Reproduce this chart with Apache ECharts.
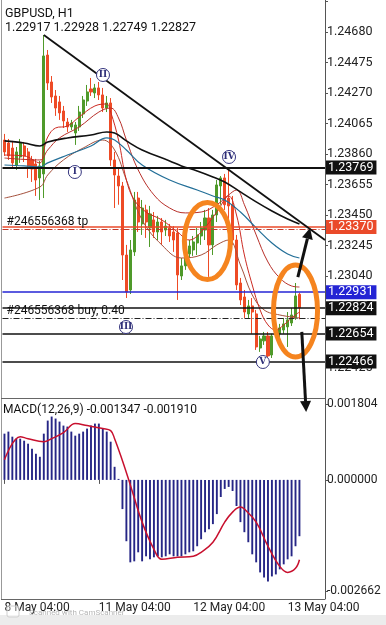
<!DOCTYPE html>
<html><head><meta charset="utf-8">
<script src="https://cdn.jsdelivr.net/npm/echarts@6.0.0/dist/echarts.min.js"></script>
<style>html,body{margin:0;padding:0;background:#fff;overflow:hidden}#c{width:386px;height:625px}</style>
</head><body><div id="c"></div>
<script>
// ---------------- data ----------------
const xTickIndex = [0, 24, 48, 72];
const xTickText = ['8 May 04:00', '11 May 04:00', '12 May 04:00', '13 May 04:00'];

const candleOpen = [
1.23954,1.23934,1.23900,1.23786,1.23840,1.23914,1.23874,1.23820,1.23793,1.23699,
1.23726,1.24525,1.24344,1.24250,1.24210,1.24149,1.24075,1.24042,1.24001,1.24042,
1.24129,1.24216,1.24297,1.24270,1.24304,1.24257,1.24169,1.24203,1.23820,1.23712,
1.23645,1.23181,1.22946,1.23202,1.23564,1.23390,1.23484,1.23363,1.23417,1.23336,
1.23403,1.23349,1.23363,1.23336,1.23329,1.23040,1.23108,1.23188,1.23215,1.23262,
1.23309,1.23349,1.23430,1.23249,1.23450,1.23645,1.23699,1.23564,1.23519,1.23282,
1.22993,1.22899,1.22785,1.22839,1.22785,1.22556,1.22604,1.22637,1.22509,1.22677,
1.22651,1.22677,1.22698,1.22724,1.22758,1.22917];
const candleClose = [
1.23874,1.23847,1.23800,1.23874,1.23934,1.23847,1.23780,1.23759,1.23685,1.23780,
1.24519,1.24337,1.24243,1.24169,1.24136,1.24082,1.24042,1.24068,1.24055,1.24142,
1.24223,1.24277,1.24277,1.24304,1.24257,1.24169,1.24203,1.23820,1.23719,1.23645,
1.23181,1.22933,1.23215,1.23551,1.23403,1.23497,1.23403,1.23457,1.23336,1.23403,
1.23336,1.23376,1.23309,1.23282,1.23047,1.23108,1.23202,1.23242,1.23269,1.23316,
1.23363,1.23430,1.23249,1.23450,1.23652,1.23699,1.23519,1.23511,1.23282,1.22980,
1.22879,1.22798,1.22839,1.22798,1.22563,1.22617,1.22637,1.22503,1.22637,1.22651,
1.22691,1.22718,1.22745,1.22778,1.22906,1.22827];
const candleLow = [
1.23847,1.23820,1.23766,1.23753,1.23800,1.23806,1.23699,1.23672,1.23578,1.23551,
1.23564,1.24290,1.24203,1.24116,1.24089,1.24035,1.24008,1.24021,1.23921,1.24015,
1.24102,1.24183,1.24250,1.24236,1.24223,1.24142,1.24142,1.23780,1.23497,1.23519,
1.23013,1.22892,1.22919,1.23175,1.23336,1.23316,1.23296,1.23235,1.23296,1.23282,
1.23249,1.23309,1.23269,1.23202,1.22879,1.23013,1.23081,1.23161,1.23175,1.23181,
1.23249,1.23282,1.23034,1.23181,1.23403,1.23519,1.23484,1.23363,1.23249,1.22946,
1.22845,1.22758,1.22758,1.22651,1.22543,1.22530,1.22577,1.22489,1.22489,1.22624,
1.22624,1.22651,1.22563,1.22704,1.22745,1.22749];
const candleHigh = [
1.23995,1.23961,1.23948,1.23907,1.23961,1.23941,1.23900,1.23847,1.23827,1.23813,
1.24660,1.24559,1.24384,1.24290,1.24250,1.24183,1.24102,1.24089,1.24075,1.24183,
1.24250,1.24324,1.24371,1.24331,1.24344,1.24304,1.24250,1.24236,1.23874,1.23766,
1.23672,1.23249,1.23282,1.23605,1.23605,1.23551,1.23519,1.23511,1.23470,1.23444,
1.23430,1.23417,1.23390,1.23376,1.23363,1.23161,1.23249,1.23282,1.23309,1.23363,
1.23403,1.23484,1.23497,1.23484,1.23685,1.23712,1.23726,1.23766,1.23578,1.23316,
1.23027,1.22946,1.22879,1.22892,1.22812,1.22637,1.22664,1.22664,1.22651,1.22704,
1.22718,1.22758,1.22798,1.22825,1.22993,1.22928];

// moving-average lines: [bar index, price]
const maBlack = [[0,1.23948],[5,1.23934],[9,1.23914],[11,1.23941],[16,1.23968],[22,1.23988],[26,1.24008],[28,1.24001],[31,1.23948],[35,1.23887],[42,1.23813],[45,1.23780],[49,1.23746],[53,1.23706],[56,1.23672],[60,1.23605],[64,1.23538],[68,1.23477],[72,1.23423],[75,1.23390]];
const maBlue = [[0,1.23786],[5,1.23780],[9,1.23773],[11,1.23800],[16,1.23853],[22,1.23914],[26,1.23968],[28,1.23954],[31,1.23887],[35,1.23786],[42,1.23685],[49,1.23618],[53,1.23578],[56,1.23551],[60,1.23470],[64,1.23363],[68,1.23262],[72,1.23188],[75,1.23161]];
const maRedFast = [[0,1.23853],[5,1.23847],[9,1.23800],[10,1.23887],[11,1.23974],[13,1.24035],[16,1.24048],[19,1.24109],[23,1.24183],[26,1.24196],[27,1.24142],[29,1.23954],[31,1.23685],[33,1.23551],[36,1.23470],[40,1.23417],[44,1.23336],[47,1.23282],[50,1.23336],[54,1.23470],[57,1.23578],[59,1.23450],[61,1.23181],[63,1.22980],[65,1.22812],[67,1.22711],[69,1.22677],[71,1.22711],[73,1.22758],[75,1.22798]];
const maRedMid = [[0,1.23833],[9,1.23820],[11,1.23887],[14,1.23968],[19,1.24042],[24,1.24142],[27,1.24169],[29,1.24102],[31,1.23954],[34,1.23753],[38,1.23585],[42,1.23497],[46,1.23464],[50,1.23470],[54,1.23519],[57,1.23585],[59,1.23618],[61,1.23519],[64,1.23316],[67,1.23134],[70,1.23027],[73,1.22973],[75,1.22966]];
const maRedSlow = [[0,1.23564],[9,1.23638],[11,1.23719],[15,1.23820],[20,1.23900],[25,1.23954],[28,1.23887],[31,1.23685],[35,1.23417],[40,1.23249],[45,1.23161],[50,1.23181],[54,1.23249],[57,1.23282],[60,1.23114],[63,1.22913],[66,1.22812],[70,1.22778],[75,1.22758]];

const macdMain = [
0.001106,0.001155,0.001034,0.000986,0.000986,0.000938,0.000866,0.000746,0.000625,0.000553,
0.001106,0.001419,0.001515,0.001467,0.001395,0.001299,0.001275,0.001155,0.001058,0.001106,
0.001155,0.001227,0.001299,0.001347,0.001347,0.001227,0.001155,0.000914,0.000313,0.000024,
-0.000698,-0.001467,-0.001972,-0.001948,-0.001732,-0.001948,-0.001828,-0.001900,-0.001852,-0.001828,
-0.001852,-0.001828,-0.001780,-0.001828,-0.001828,-0.001828,-0.001780,-0.001732,-0.001708,-0.001587,
-0.001419,-0.001251,-0.001178,-0.001058,-0.000818,-0.000409,-0.000216,-0.000168,-0.000265,-0.000625,
-0.001010,-0.001251,-0.001491,-0.001780,-0.001972,-0.002213,-0.002333,-0.002429,-0.002309,-0.002261,
-0.002140,-0.002020,-0.001900,-0.001828,-0.001587,-0.001347];
const macdSignal = [[0,0.000481],[4,0.001034],[6,0.000986],[10,0.000914],[12,0.000986],[15,0.001130],[18,0.001347],[21,0.001299],[25,0.001227],[27,0.001178],[28,0.000986],[30,0.000457],[32,-0.000120],[35,-0.001010],[38,-0.001659],[40,-0.001900],[44,-0.001852],[48,-0.001828],[50,-0.001732],[53,-0.001491],[56,-0.001010],[58,-0.000770],[60,-0.000649],[61,-0.000698],[64,-0.001010],[67,-0.001587],[70,-0.002068],[72,-0.002213],[74,-0.002116],[75,-0.001910]];
const macdLabelValues = [0.001804, 0, -0.002662];

// horizontal price levels
const levelPrices = [1.23769, 1.23370, 1.22931, 1.22824, 1.22654, 1.22466];
const orderPrices = [1.23356, 1.22758];
const orderText = ['#246556368 tp', '#246556368 buy, 0.40'];
const headerText = ['GBPUSD, H1', '1.22917 1.22928 1.22749 1.22827'];
const macdHeader = 'MACD(12,26,9) -0.001347 -0.001910';
const waveLabels = ['I', 'II', 'III', 'IV', 'V'];
const waveAnchors = [[17.9,1.23739],[25.05,1.24391],[30.9,1.22697],[57.1,1.23840],[65.7,1.22462]];

// ---------------- chart ----------------
const SLOTS = 82;
const cats = Array.from({length: SLOTS}, (_, i) => i);
const candles = candleOpen.map((o, i) => [o, candleClose[i], candleLow[i], candleHigh[i]]);
const FONT = 'Roboto';
const levelColors = ['#111111', '#ea4a2a', '#2424d4', '#111111', '#111111', '#111111'];
const levelWidths = [2.2, 1.6, 1.6, 1.6, 1.6, 1.6];

const markData = levelPrices.map((p, i) => ({
  yAxis: p,
  lineStyle: {color: levelColors[i], width: levelWidths[i], type: 'solid'},
  label: {show: true, position: 'end', distance: 1, formatter: p.toFixed(5),
    backgroundColor: levelColors[i], color: '#fff', padding: [1, 3, 0, 2],
    fontFamily: FONT, fontSize: 12.5, lineHeight: 13}
})).concat(orderPrices.map((p, i) => ({
  yAxis: p,
  lineStyle: {color: i === 0 ? '#c0392b' : '#222', width: 1, type: [6, 2, 1, 2]},
  label: {show: true, position: 'insideStartTop', distance: [4, 1], formatter: orderText[i],
    color: '#111', fontFamily: FONT, fontSize: 12}
})));

function maSeries(data, color, width) {
  return {type: 'line', xAxisIndex: 0, yAxisIndex: 0, data: data, smooth: 0.4,
    showSymbol: false, silent: true, lineStyle: {color: color, width: width}, z: 4};
}

const option = {
  animation: false,
  backgroundColor: '#ffffff',
  textStyle: {fontFamily: FONT},
  grid: [
    {left: 2.5, right: 61, top: 0, height: 398},
    {left: 2.5, right: 61, top: 398, height: 201}
  ],
  xAxis: [
    {type: 'category', gridIndex: 0, data: cats, boundaryGap: true,
      axisLine: {show: false}, axisTick: {show: false}, axisLabel: {show: false}, splitLine: {show: false}},
    {type: 'category', gridIndex: 1, data: cats, boundaryGap: true,
      axisLine: {show: false},
      axisTick: {show: true, alignWithLabel: true, length: 4, lineStyle: {color: '#555'},
        interval: (i) => xTickIndex.includes(i)},
      axisLabel: {show: true, interval: (i) => xTickIndex.includes(i), align: 'left', margin: 3,
        color: '#222', fontSize: 12, fontFamily: FONT,
        formatter: (v, i) => { const k = xTickIndex.indexOf(Number(v)); return k >= 0 ? xTickText[k] : ''; }},
      splitLine: {show: false}}
  ],
  yAxis: [
    {type: 'value', gridIndex: 0, position: 'right', min: 1.22220, max: 1.24895, interval: 0.00205,
      scale: true, splitLine: {show: false},
      axisLine: {show: true, onZero: false, lineStyle: {color: '#555'}},
      axisTick: {show: true, length: 3, lineStyle: {color: '#555'}},
      axisLabel: {show: true, margin: 2, color: '#222', fontSize: 12.5, fontFamily: FONT,
        showMinLabel: false, showMaxLabel: false,
        formatter: (v) => (v > 1.2475 || v < 1.2225) ? '' : v.toFixed(5)}},
    {type: 'value', gridIndex: 1, position: 'right', min: -0.002849, max: 0.001959,
      splitLine: {show: false},
      axisLine: {show: true, onZero: false, lineStyle: {color: '#555'}},
      axisTick: {show: true, length: 3, lineStyle: {color: '#555'}, customValues: macdLabelValues},
      axisLabel: {show: true, margin: 2, color: '#222', fontSize: 12, fontFamily: FONT,
        customValues: macdLabelValues, formatter: (v) => v.toFixed(6)}}
  ],
  series: [
    {type: 'candlestick', xAxisIndex: 0, yAxisIndex: 0, data: candles, barWidth: 2.6, silent: true,
      itemStyle: {color: '#4f9a2a', color0: '#ee4b26', borderColor: '#4f9a2a', borderColor0: '#ee4b26', borderWidth: 1},
      markLine: {silent: true, symbol: ['none', 'none'], precision: 5, data: markData, z: 6}},
    maSeries(maRedSlow, '#a4503c', 1),
    maSeries(maRedMid, '#b8302a', 1),
    maSeries(maRedFast, '#cc2a22', 1),
    maSeries(maBlue, '#236f98', 1.2),
    maSeries(maBlack, '#111111', 1.6),
    {type: 'bar', xAxisIndex: 1, yAxisIndex: 1, data: macdMain, barWidth: 1.9, silent: true,
      itemStyle: {color: '#262686'}},
    {type: 'line', xAxisIndex: 1, yAxisIndex: 1, data: macdSignal, smooth: 0.4, showSymbol: false,
      silent: true, lineStyle: {color: '#c8102e', width: 1.5}, z: 4}
  ]
};

const chart = echarts.init(document.getElementById('c'), null, {renderer: 'canvas', width: 386, height: 625});
chart.setOption(option);

// ---- annotations anchored in data space ----
function px(idx, price) {
  const a = chart.convertToPixel({gridIndex: 0}, [0, price]);
  const b = chart.convertToPixel({gridIndex: 0}, [1, price]);
  return [a[0] + (b[0] - a[0]) * idx, a[1]];
}
const g = [];
// frame
g.push({type: 'line', shape: {x1: 1.5, y1: 0, x2: 1.5, y2: 599}, style: {stroke: '#999', lineWidth: 1}, silent: true});
g.push({type: 'line', shape: {x1: 1, y1: 398.5, x2: 325, y2: 398.5}, style: {stroke: '#666', lineWidth: 1}, silent: true});
g.push({type: 'line', shape: {x1: 1, y1: 599.5, x2: 325, y2: 599.5}, style: {stroke: '#666', lineWidth: 1}, silent: true});
// trend line from the high of the big bar
const tl0 = px(10, candleHigh[10]);
const tl1 = px(81.5, 1.23282);
g.push({type: 'line', z: 20, shape: {x1: tl0[0], y1: tl0[1], x2: tl1[0], y2: tl1[1]}, style: {stroke: '#111', lineWidth: 1.8}, silent: true});
// ellipses
const ellipseDefs = [[51.6, 1.23275, 5.85, 0.002588], [74.0, 1.22805, 5.6, 0.003092]];
ellipseDefs.forEach(e => {
  const c = px(e[0], e[1]);
  const r = px(e[0] + e[2], e[1] - e[3]);
  g.push({type: 'ellipse', z: 30, shape: {cx: c[0], cy: c[1], rx: r[0] - c[0], ry: r[1] - c[1]},
    style: {fill: 'none', stroke: '#f5841f', lineWidth: 5}, silent: true});
});
// arrows
function arrow(p0, p1) {
  const dx = p1[0] - p0[0], dy = p1[1] - p0[1], L = Math.hypot(dx, dy);
  const ux = dx / L, uy = dy / L, len = 11, half = 5.5;
  const bx = p1[0] - ux * len, by = p1[1] - uy * len;
  g.push({type: 'line', z: 31, shape: {x1: p0[0], y1: p0[1], x2: bx, y2: by}, style: {stroke: '#111', lineWidth: 3}, silent: true});
  g.push({type: 'polygon', z: 31, shape: {points: [[p1[0], p1[1]], [bx - uy * half, by + ux * half], [bx + uy * half, by - ux * half]]},
    style: {fill: '#111'}, silent: true});
}
arrow(px(74.6, 1.23033), px(77.7, 1.23363));
arrow(px(75.6, 1.22664), px(76.7, 1.22126));
// wave labels
waveLabels.forEach((t, i) => {
  const c = px(waveAnchors[i][0], waveAnchors[i][1]);
  g.push({type: 'circle', z: 25, shape: {cx: c[0], cy: c[1], r: 6.5}, style: {fill: '#fff', stroke: '#34347e', lineWidth: 1}, silent: true});
  g.push({type: 'text', z: 26, x: c[0], y: c[1], style: {text: t, fill: '#2e2e78', font: 'bold 9px "DejaVu Serif"', align: 'center', verticalAlign: 'middle'}, silent: true});
});
// headers
g.push({type: 'text', z: 40, x: 5, y: 13.5, style: {text: headerText[0], fill: '#111', font: '12.5px Roboto', verticalAlign: 'middle'}});
g.push({type: 'text', z: 40, x: 5, y: 27.5, style: {text: headerText[1], fill: '#111', font: '12.5px Roboto', verticalAlign: 'middle'}});
g.push({type: 'text', z: 40, x: 3, y: 410, style: {text: macdHeader, fill: '#111', font: '12px Roboto', verticalAlign: 'middle'}});
// bottom strip + watermark
g.push({type: 'rect', z: 1, shape: {x: 0, y: 615, width: 386, height: 10}, style: {fill: '#ececec'}, silent: true});
g.push({type: 'rect', z: 41, shape: {x: 7, y: 606, width: 12, height: 11, r: 2}, style: {fill: 'rgba(255,255,255,0.4)', stroke: '#cfcfcf', lineWidth: 1}, silent: true});
g.push({type: 'text', z: 41, x: 29, y: 613, style: {text: 'Scanned with CamScanner', fill: 'rgba(150,150,150,0.7)', font: '8px Roboto', verticalAlign: 'middle'}});
chart.setOption({graphic: g});
</script>
</body></html>
